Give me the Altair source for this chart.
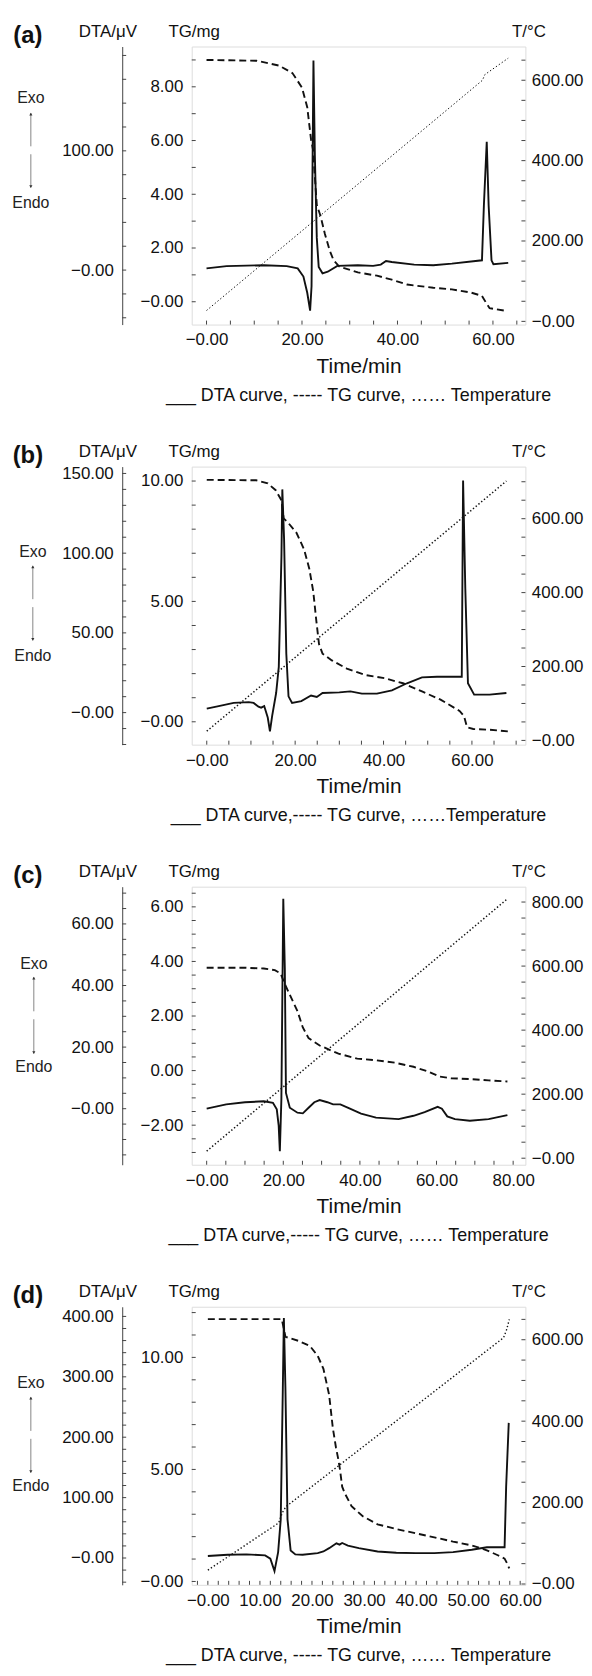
import altair as alt
import pandas as pd

FONT = "Liberation Sans"
INK = "#111111"
FRAME = "#444444"
W, H = 336, 280

# ---------------- panel (a) ----------------
a_dta_t = [0, 4.2, 12, 16.8, 19.1, 20.3, 21.1, 21.7, 22.0, 22.15, 22.4, 22.7, 23.1, 23.5, 24.3, 25.4, 27.4,
           31.7, 34.9, 36.5, 37.6, 38.8, 43.5, 47.5, 51.4, 57.7, 58.1, 58.7, 59.1, 59.7, 60.1, 63.2]
a_dta_v = [1.4, 3.3, 4.1, 3.3, 1.4, -5.4, -19, -34, -13.6, 60, 175.7, 95, 27, 2.7, -2.7, -1.4, 3.5,
           4.1, 3.5, 4.6, 7.6, 6.8, 4.6, 4.1, 5.4, 8.2, 54, 107.6, 54, 8.2, 4.9, 6]
a_tg_t = [0, 10.5, 15.2, 18, 20, 21.1, 21.9, 22.3, 23.1, 23.9, 24.8, 25.8, 26.6, 27.8, 31.7, 35.7, 38.8,
          42, 47.5, 51.4, 55.4, 57.7, 58.5, 59.3, 62.4]
a_tg_v = [9.0, 8.97, 8.79, 8.51, 7.97, 7.24, 6.03, 5.67, 3.61, 3.18, 2.52, 1.91, 1.55, 1.31, 1.09, 0.97, 0.82,
          0.64, 0.52, 0.46, 0.34, 0.22, -0.02, -0.24, -0.33]
a_T_t = [0, 57.8, 58.3, 63.2]
a_T_v = [27, 600, 614, 655]

# ---------------- panel (b) ----------------
b_dta_t = [0, 2.7, 6.1, 9.5, 10.6, 11.7, 12.3, 13.0, 13.8, 14.3, 14.8, 15.7, 16.3, 16.9, 17.1, 17.5, 18.0,
           18.5, 19.3, 21.4, 23.6, 24.9, 25.7, 26.2, 30, 32.5, 35.1, 38.5, 41.9, 45.3, 48.7, 52.1, 57.7,
           58.0, 58.5, 59.1, 60.5, 64, 67.8]
b_dta_v = [2.5, 4.1, 6.1, 6.6, 6.1, 3.7, 3.1, 4.1, -3.1, -11.7, -2, 12.3, 28.7, 98, 140, 108.6, 36.9,
           10.2, 6.1, 7.2, 10.7, 9.8, 11.3, 12.3, 12.7, 13.3, 11.9, 11.9, 13.9, 18.4, 22.1, 22.5, 22.5,
           145.5, 77.9, 18.4, 11.3, 11.3, 12.3]
b_tg_t = [0, 11.2, 13.8, 15.6, 16.9, 17.4, 18.5, 20.3, 22, 23.2, 24.1, 24.8, 25.4, 26.2, 28.3, 31.7, 35.9,
          40.2, 44.4, 48.7, 52.9, 57.2, 58.2, 58.9, 60.3, 64, 68.3]
b_tg_v = [10.05, 10.03, 9.9, 9.62, 9.2, 8.45, 8.25, 7.85, 7.17, 6.36, 5.41, 4.18, 3.23, 2.83, 2.55, 2.21, 1.94,
          1.81, 1.6, 1.26, 0.92, 0.45, 0.24, -0.23, -0.3, -0.33, -0.4]
b_T_t = [0, 67.8]
b_T_v = [25, 702]

# ---------------- panel (c) ----------------
c_dta_t = [0, 5.1, 10, 14.9, 17.3, 18.3, 18.8, 19.1, 19.5, 20.0, 20.4, 20.7, 21.7, 23.7, 25.1, 26.6, 28.1,
           29.5, 31.5, 33, 34.9, 37.4, 40.3, 44.2, 50.1, 54, 56.9, 60.3, 61.4, 62.8, 64.8, 68.7, 73.6, 78.5]
c_dta_v = [0, 1.4, 2.1, 2.4, 1.9, -0.2, -5.5, -13.8, 3, 68.2, 45.4, 5.1, 0.3, -1.3, -1.5, 0.3, 2.1,
           2.8, 2.1, 1.4, 1.4, 0, -1.6, -2.9, -3.4, -2.3, -1.1, 0.6, 0, -2.5, -3.4, -3.9, -3.4, -2.1]
c_tg_t = [0, 10, 14.9, 17.8, 19.3, 20.5, 21.7, 23.7, 25.1, 26.6, 29.5, 34.4, 39.3, 44.2, 49.1, 54, 57.9,
          60.9, 63.8, 68.7, 73.6, 78.5]
c_tg_v = [3.77, 3.77, 3.74, 3.68, 3.56, 3.14, 2.78, 2.18, 1.58, 1.19, 0.92, 0.62, 0.44, 0.38, 0.29, 0.14, -0.04,
          -0.22, -0.28, -0.31, -0.36, -0.4]
c_T_t = [0, 78.5]
c_T_v = [22, 810]

# ---------------- panel (d) ----------------
d_dta_t = [0, 3.8, 7.4, 11, 12, 12.8, 13.5, 14.0, 14.4, 14.6, 14.9, 15.3, 15.9, 16.8, 18.2, 21.1, 22.2,
           23.3, 24.7, 25.3, 25.8, 26.9, 29, 32.6, 36.2, 39.9, 43.5, 47.1, 50.7, 53.6, 57.0, 57.3, 57.8]
d_dta_v = [3.3, 5.4, 6, 4.3, -1.1, -21.7, 9.8, 64, 280.8, 397.3, 280.8, 64, 12.5, 6, 5.4, 8.1, 10.8,
           16.3, 24.4, 22.2, 24.9, 20.6, 16.3, 10.8, 8.7, 8.1, 8.1, 9.8, 13.6, 17.9, 17.9, 118, 223.8]
d_tg_t = [0, 14.2, 14.9, 17.5, 19.6, 21.1, 22.2, 23.3, 24.0, 24.6, 25.1, 25.4, 25.8, 26.3, 27.6, 29.7, 32.6,
          36.2, 39.9, 43.5, 47.1, 50.7, 53.6, 55.7, 57.0, 57.5, 57.9]
d_tg_v = [11.71, 11.71, 10.92, 10.73, 10.51, 10.07, 9.49, 8.32, 6.86, 5.99, 5.4, 4.96, 4.23, 3.94, 3.36, 2.92, 2.55,
          2.34, 2.15, 1.97, 1.78, 1.61, 1.39, 1.17, 1.02, 0.8, 0.58]
d_T_t = [0, 13.6, 14.3, 15.0, 56.8, 57.4, 57.9]
d_T_v = [34, 150, 175, 190, 605, 625, 650]

# ---------------- axes: tick labels ----------------
a_x_major = [0, 20, 40, 60];            a_x_labels = ["−0.00", "20.00", "40.00", "60.00"]
b_x_major = [0, 20, 40, 60];            b_x_labels = ["−0.00", "20.00", "40.00", "60.00"]
c_x_major = [0, 20, 40, 60, 80];        c_x_labels = ["−0.00", "20.00", "40.00", "60.00", "80.00"]
d_x_major = [0, 10, 20, 30, 40, 50, 60]; d_x_labels = ["−0.00", "10.00", "20.00", "30.00", "40.00", "50.00", "60.00"]

a_tg_major = [0, 2, 4, 6, 8];           a_tg_labels = ["−0.00", "2.00", "4.00", "6.00", "8.00"]
b_tg_major = [0, 5, 10];                b_tg_labels = ["−0.00", "5.00", "10.00"]
c_tg_major = [-2, 0, 2, 4, 6];          c_tg_labels = ["−2.00", "0.00", "2.00", "4.00", "6.00"]
d_tg_major = [0, 5, 10];                d_tg_labels = ["−0.00", "5.00", "10.00"]

a_T_major = [0, 200, 400, 600];         a_T_labels = ["−0.00", "200.00", "400.00", "600.00"]
b_T_major = [0, 200, 400, 600];         b_T_labels = ["−0.00", "200.00", "400.00", "600.00"]
c_T_major = [0, 200, 400, 600, 800];    c_T_labels = ["−0.00", "200.00", "400.00", "600.00", "800.00"]
d_T_major = [0, 200, 400, 600];         d_T_labels = ["−0.00", "200.00", "400.00", "600.00"]

a_dta_major = [0, 100];                 a_dta_labels = ["−0.00", "100.00"]
b_dta_major = [0, 50, 100, 150];        b_dta_labels = ["−0.00", "50.00", "100.00", "150.00"]
c_dta_major = [0, 20, 40, 60];          c_dta_labels = ["−0.00", "20.00", "40.00", "60.00"]
d_dta_major = [0, 100, 200, 300, 400];  d_dta_labels = ["−0.00", "100.00", "200.00", "300.00", "400.00"]

legend_texts = [
    "___ DTA curve, ----- TG curve, …… Temperature",
    "___ DTA curve,----- TG curve, ……Temperature",
    "___ DTA curve,----- TG curve, …… Temperature",
    "___ DTA curve, ----- TG curve, …… Temperature",
]
panel_tags = ["(a)", "(b)", "(c)", "(d)"]

PANELS = [
    dict(dta=(a_dta_t, a_dta_v), tg=(a_tg_t, a_tg_v), T=(a_T_t, a_T_v),
         xdom=[-3.1, 66.8], tgdom=[-0.85, 9.5], Tdom=[-8, 684], dtadom=[-45.7, 187.5],
         x=(a_x_major, a_x_labels, 5), tgax=(a_tg_major, a_tg_labels, 1), Tax=(a_T_major, a_T_labels, 50),
         dtaax=(a_dta_major, a_dta_labels, 20), exo=(-162, 52, 67, 142, 158), Tw=1.0),
    dict(dta=(b_dta_t, b_dta_v), tg=(b_tg_t, b_tg_v), T=(b_T_t, b_T_v),
         xdom=[-3.4, 72.1], tgdom=[-0.95, 10.6], Tdom=[-11.5, 741], dtadom=[-20.1, 154.3],
         x=(b_x_major, b_x_labels, 5), tgax=(b_tg_major, b_tg_labels, 1), Tax=(b_T_major, b_T_labels, 50),
         dtaax=(b_dta_major, b_dta_labels, 10), exo=(-160, 86, 100, 175, 191), Tw=1.5),
    dict(dta=(c_dta_t, c_dta_v), tg=(c_tg_t, c_tg_v), T=(c_T_t, c_T_v),
         xdom=[-3.9, 83.2], tgdom=[-3.45, 6.74], Tdom=[-20.4, 848], dtadom=[-18.2, 72.1],
         x=(c_x_major, c_x_labels, 5), tgax=(c_tg_major, c_tg_labels, 0.5), Tax=(c_T_major, c_T_labels, 50),
         dtaax=(c_dta_major, c_dta_labels, 5), exo=(-159, 78, 91, 168, 182), Tw=1.5),
    dict(dta=(d_dta_t, d_dta_v), tg=(d_tg_t, d_tg_v), T=(d_T_t, d_T_v),
         xdom=[-3.1, 61.0], tgdom=[-0.15, 12.26], Tdom=[-2, 681], dtadom=[-44.4, 416],
         x=(d_x_major, d_x_labels, 2), tgax=(d_tg_major, d_tg_labels, 1), Tax=(d_T_major, d_T_labels, 50),
         dtaax=(d_dta_major, d_dta_labels, 20), exo=(-162, 77, 91, 167, 181), Tw=1.4),
]


def lab_expr(vals, labs):
    expr = "''"
    for v, l in reversed(list(zip(vals, labs))):
        expr = f"abs(datum.value - ({v})) < 1e-6 ? '{l}' : ({expr})"
    return expr


def minor_ticks(dom, step):
    lo, hi = dom
    k = int(lo // step)
    out = []
    while k * step <= hi + 1e-9:
        if k * step >= lo - 1e-9:
            out.append(round(k * step, 6))
        k += 1
    return out


def axis_common(**kw):
    base = dict(tickSize=0, grid=False, labelFont=FONT, titleFont=FONT, labelFontSize=17,
                labelColor=INK, titleColor=INK, labelFlush=False, labelOverlap=False,
                titleFontWeight="normal")
    base.update(kw)
    return alt.Axis(**base)


def build_panel(i, p):
    xs = alt.Scale(domain=p["xdom"], nice=False, zero=False)
    dta_s = alt.Scale(domain=p["dtadom"], nice=False, zero=False)
    tg_s = alt.Scale(domain=p["tgdom"], nice=False, zero=False)
    T_s = alt.Scale(domain=p["Tdom"], nice=False, zero=False)

    xmaj, xlab, xstep = p["x"]
    xaxis = axis_common(values=xmaj, labelExpr=lab_expr(xmaj, xlab), domain=False,
                        title="Time/min", titleFontSize=21, labelPadding=7.5, titlePadding=8)

    dmaj, dlab, dstep = p["dtaax"]
    dta_axis = axis_common(orient="left", offset=70, values=dmaj, labelExpr=lab_expr(dmaj, dlab),
                           domain=True, domainColor=FRAME, domainWidth=1, labelPadding=9,
                           title="DTA/μV", titleFontSize=17, titleAngle=0, titleX=-15, titleY=-15,
                           titleAlign="center", titleBaseline="middle")
    gmaj, glab, gstep = p["tgax"]
    tg_axis = axis_common(orient="left", offset=0, values=gmaj, labelExpr=lab_expr(gmaj, glab),
                          domain=False, labelPadding=9,
                          title="TG/mg", titleFontSize=17, titleAngle=0, titleX=2, titleY=-15,
                          titleAlign="center", titleBaseline="middle")
    tmaj, tlab, tstep = p["Tax"]
    T_axis = axis_common(orient="right", offset=0, values=tmaj, labelExpr=lab_expr(tmaj, tlab),
                         domain=False, labelPadding=6,
                         title="T/°C", titleFontSize=17, titleAngle=0, titleX=3, titleY=-15,
                         titleAlign="center", titleBaseline="middle")

    df_dta = pd.DataFrame({"t": p["dta"][0], "v": p["dta"][1]})
    df_tg = pd.DataFrame({"t": p["tg"][0], "v": p["tg"][1]})
    df_T = pd.DataFrame({"t": p["T"][0], "v": p["T"][1]})

    dta_line = alt.Chart(df_dta).mark_line(color=INK, strokeWidth=1.9).encode(
        x=alt.X("t:Q", scale=xs, axis=xaxis),
        y=alt.Y("v:Q", scale=dta_s, axis=dta_axis),
    )
    tg_line = alt.Chart(df_tg).mark_line(color=INK, strokeWidth=1.9, strokeDash=[7, 4]).encode(
        x=alt.X("t:Q", scale=xs, axis=xaxis),
        y=alt.Y("v:Q", scale=tg_s, axis=tg_axis),
    )
    T_line = alt.Chart(df_T).mark_line(color=INK, strokeWidth=p["Tw"], strokeDash=[1.4, 2.2]).encode(
        x=alt.X("t:Q", scale=xs, axis=xaxis),
        y=alt.Y("v:Q", scale=T_s, axis=T_axis),
    )

    # inward tick marks drawn through the scales
    xt = alt.Chart(pd.DataFrame({"v": minor_ticks(p["xdom"], xstep)})).mark_rule(
        color=FRAME, strokeWidth=1).encode(
        x=alt.X("v:Q", scale=xs, axis=xaxis), y=alt.value(H), y2=alt.value(H - 4))
    gt = alt.Chart(pd.DataFrame({"v": minor_ticks(p["tgdom"], gstep)})).mark_rule(
        color=FRAME, strokeWidth=1).encode(
        y=alt.Y("v:Q", scale=tg_s, axis=None), x=alt.value(0), x2=alt.value(4))
    Tt = alt.Chart(pd.DataFrame({"v": minor_ticks(p["Tdom"], tstep)})).mark_rule(
        color=FRAME, strokeWidth=1).encode(
        y=alt.Y("v:Q", scale=T_s, axis=None), x=alt.value(W), x2=alt.value(W - 4))
    dt = alt.Chart(pd.DataFrame({"v": minor_ticks(p["dtadom"], dstep)})).mark_rule(
        color=FRAME, strokeWidth=1).encode(
        y=alt.Y("v:Q", scale=dta_s, axis=None), x=alt.value(-70), x2=alt.value(-66))

    ex, exo_y, ar_top, ar_bot, endo_y = p["exo"]
    mid = (ar_top + ar_bot) / 2
    tag = alt.Chart(pd.DataFrame({"s": [panel_tags[i]]})).mark_text(
        font=FONT, fontSize=24, fontWeight="bold", align="center", baseline="middle", color=INK
    ).encode(text="s:N", x=alt.value(-165), y=alt.value(-11))
    exo = alt.Chart(pd.DataFrame({"s": ["Exo"]})).mark_text(
        font=FONT, fontSize=16, align="center", baseline="middle", color="#222222"
    ).encode(text="s:N", x=alt.value(ex), y=alt.value(exo_y))
    endo = alt.Chart(pd.DataFrame({"s": ["Endo"]})).mark_text(
        font=FONT, fontSize=16, align="center", baseline="middle", color="#222222"
    ).encode(text="s:N", x=alt.value(ex), y=alt.value(endo_y))
    ar1 = alt.Chart(pd.DataFrame({"s": [0]})).mark_rule(color="#666666", strokeWidth=0.8).encode(
        x=alt.value(ex), y=alt.value(ar_top), y2=alt.value(mid - 4))
    ar2 = alt.Chart(pd.DataFrame({"s": [0]})).mark_rule(color="#666666", strokeWidth=0.8).encode(
        x=alt.value(ex), y=alt.value(mid + 4), y2=alt.value(ar_bot))
    head1 = alt.Chart(pd.DataFrame({"s": [0]})).mark_point(
        shape="triangle-up", filled=True, size=10, color="#333333", opacity=1).encode(
        x=alt.value(ex), y=alt.value(ar_top + 1))
    head2 = alt.Chart(pd.DataFrame({"s": [0]})).mark_point(
        shape="triangle-down", filled=True, size=10, color="#333333", opacity=1).encode(
        x=alt.value(ex), y=alt.value(ar_bot - 1))

    layer = alt.layer(
        dta_line, tg_line, T_line, xt, gt, Tt, dt, tag, exo, endo, ar1, ar2, head1, head2
    ).resolve_scale(y="independent").properties(
        width=W, height=H,
        title=alt.Title(legend_texts[i], orient="bottom", anchor="middle", font=FONT,
                        fontSize=18, fontWeight="normal", color=INK, offset=10),
    )
    return layer


panels = [build_panel(i, p) for i, p in enumerate(PANELS)]

chart = alt.vconcat(*panels, spacing=37).properties(
    padding={"left": 3, "top": 8, "right": 0, "bottom": 0}
).configure_view(stroke=FRAME, strokeWidth=1).configure(font=FONT)

chart.save("out.html", embed_options={"renderer": "svg", "actions": False})
